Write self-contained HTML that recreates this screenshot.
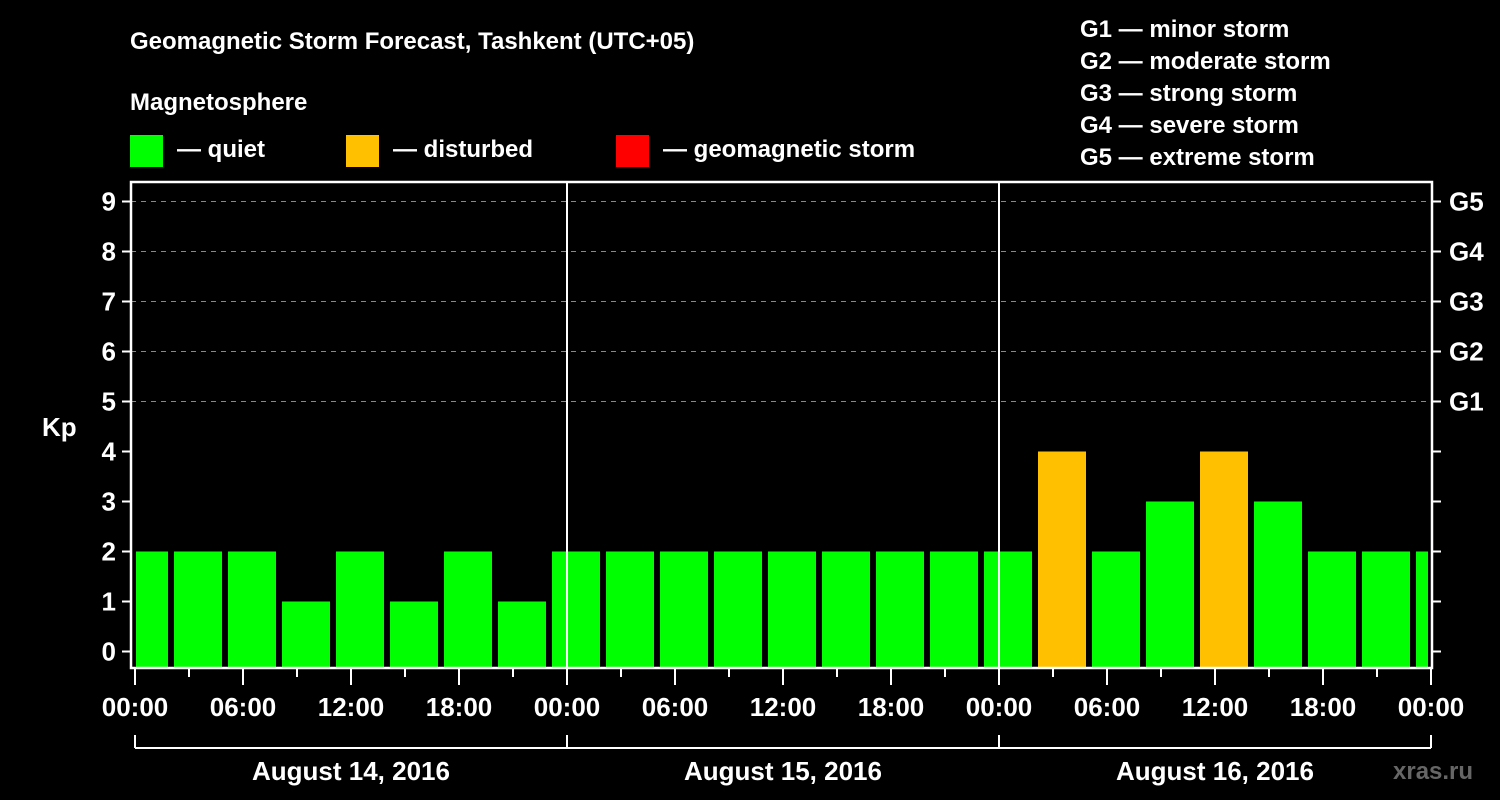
<!DOCTYPE html>
<html><head><meta charset="utf-8"><style>
html,body{margin:0;padding:0;background:#000;}
svg{display:block;font-family:"Liberation Sans",sans-serif;font-weight:bold;}
</style></head><body>
<svg id="chart" width="1500" height="800" viewBox="0 0 1500 800">
<rect x="0" y="0" width="1500" height="800" fill="#000"/>
<text x="130" y="49" fill="#fff" font-size="24">Geomagnetic Storm Forecast, Tashkent (UTC+05)</text>
<text x="130" y="110" fill="#fff" font-size="24">Magnetosphere</text>
<g><rect x="130" y="135" width="33" height="32" fill="#00ff00"/><text x="177" y="157" fill="#fff" font-size="24">— quiet</text></g>
<g><rect x="346" y="135" width="33" height="32" fill="#ffc000"/><text x="393" y="157" fill="#fff" font-size="24">— disturbed</text></g>
<g><rect x="616" y="135" width="33" height="32" fill="#ff0000"/><text x="663" y="157" fill="#fff" font-size="24">— geomagnetic storm</text></g>
<g fill="#fff" font-size="24">
<text x="1080" y="37">G1 — minor storm</text>
<text x="1080" y="69">G2 — moderate storm</text>
<text x="1080" y="101">G3 — strong storm</text>
<text x="1080" y="133">G4 — severe storm</text>
<text x="1080" y="165">G5 — extreme storm</text>
</g>
<text x="42" y="436" fill="#fff" font-size="26">Kp</text>
<text x="1393" y="779" fill="#666" font-size="24">xras.ru</text>
<g id="plot"></g>
</svg>
<script>
const kpValues = [2, 2,2,1,2,1,2,1, 2,2,2,2,2,2,2,2, 2,4,2,3,4,3,2,2,2];
const xTickLabels = ["00:00","06:00","12:00","18:00","00:00","06:00","12:00","18:00","00:00","06:00","12:00","18:00","00:00"];
const dayLabels = ["August 14, 2016","August 15, 2016","August 16, 2016"];
const yTickLabels = ["0","1","2","3","4","5","6","7","8","9"];
const gLabels = ["G1","G2","G3","G4","G5"];

const NS="http://www.w3.org/2000/svg";
const plot=document.getElementById('plot');
const L=131,R=1432,T=182,B=668,X0=135,HPX=18;
const xs=h=>X0+h*HPX;
const ys=v=>651.5-v*50;
function mk(tag,attrs,parent){const e=document.createElementNS(NS,tag);for(const k in attrs)e.setAttribute(k,attrs[k]);(parent||plot).appendChild(e);return e;}

// grid
for(let v=5;v<=9;v++){
 const g=mk('line',{x1:L,x2:R,y1:ys(v),y2:ys(v),stroke:'#888','stroke-width':1,'stroke-dasharray':'5,5'});
 
 
}
// bars
kpValues.forEach((v,i)=>{
 let h0=i===0?0:(i-1)*3+2, h1=i===0?2:(i-1)*3+5;
 h1=Math.min(h1,72);
 const x0=xs(h0)+(i===0?1:3), x1=xs(h1)-3;
 const r=mk('rect',{x:x0,y:ys(v),width:Math.max(0,x1-x0),height:B-ys(v),fill:v>=5?'#ff0000':(v>=4?'#ffc000':'#00ff00')});
 
 
});
// day separators
[24,48].forEach(h=>{
 const l=mk('line',{x1:xs(h),x2:xs(h),y1:T,y2:B,stroke:'#fff','stroke-width':2});
 
 
});
// frame
const fr=mk('rect',{x:L,y:T,width:R-L,height:B-T,fill:'none',stroke:'#fff','stroke-width':2.5});


// y ticks
yTickLabels.forEach((t,v)=>{
 mk('line',{x1:L-9,x2:L,y1:ys(v),y2:ys(v),stroke:'#fff','stroke-width':2});
 mk('line',{x1:R,x2:R+9,y1:ys(v),y2:ys(v),stroke:'#fff','stroke-width':2});
 const tx=mk('text',{x:116,y:ys(v)+9,fill:'#fff','font-size':26,'text-anchor':'end'});
 tx.textContent=t;
 
 
});
gLabels.forEach((t,i)=>{
 const tx=mk('text',{x:1449,y:ys(i+5)+9,fill:'#fff','font-size':26});
 tx.textContent=t;
 
 
});
// x ticks
for(let h=0;h<=72;h+=3){
 const major=h%6===0;
 mk('line',{x1:xs(h),x2:xs(h),y1:B,y2:major?B+17:B+9,stroke:'#fff','stroke-width':2});
}
xTickLabels.forEach((t,i)=>{
 const tx=mk('text',{x:xs(i*6),y:716,fill:'#fff','font-size':26,'text-anchor':'middle'});
 tx.textContent=t;
 
 
});
// date brackets
mk('line',{x1:xs(0),x2:xs(72),y1:748,y2:748,stroke:'#fff','stroke-width':2});
for(let d=0;d<=3;d++) mk('line',{x1:xs(d*24),x2:xs(d*24),y1:735,y2:748,stroke:'#fff','stroke-width':2});
dayLabels.forEach((t,i)=>{
 const tx=mk('text',{x:xs(i*24+12),y:780,fill:'#fff','font-size':26,'text-anchor':'middle'});
 tx.textContent=t;
 
 
});
</script>
</body></html>
